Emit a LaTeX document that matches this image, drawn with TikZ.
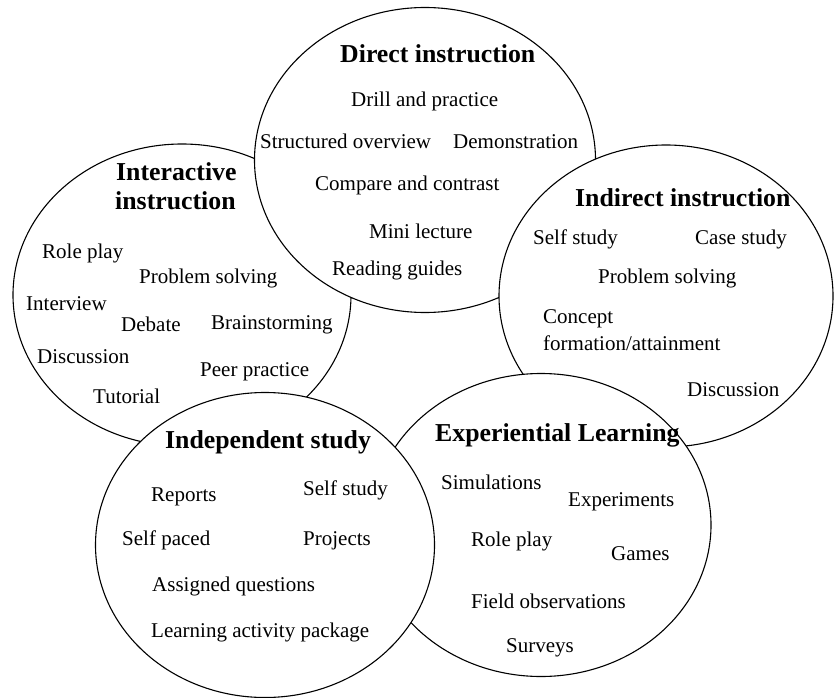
\documentclass[tikz,border=0pt]{standalone}
\usepackage{fontspec}
\setmainfont{Liberation Serif}
\usetikzlibrary{shapes.geometric}
\tikzset{
  blob/.style={ellipse, draw=black, fill=white, line width=1.1pt, inner sep=0pt},
  item/.style={anchor=west, inner sep=0pt, yshift=-1.5pt, font=\fontsize{21}{23}\selectfont},
  head/.style={anchor=west, inner sep=0pt, yshift=-1pt, font=\fontsize{25.8}{28}\selectfont\bfseries},
}
\begin{document}
\begin{tikzpicture}[x=1pt, y=-1pt]
\useasboundingbox (0,0) rectangle (835,698);
% ellipses in stacking order
\node[blob, minimum width=338pt, minimum height=302pt] (inter) at (182,295) {};
\node[blob, minimum width=341pt, minimum height=305pt] (direct) at (425,160) {};
\node[blob, minimum width=334pt, minimum height=302pt] (indirect) at (666,296) {};
\node[blob, minimum width=340pt, minimum height=303pt] (exper) at (541,525) {};
\node[blob, minimum width=339pt, minimum height=305pt] (indep) at (265,545) {};

% Direct instruction
\node[head] (dh) at (340,53) {Direct instruction};
\node[item] (d1) at (351,100) {Drill and practice};
\node[item] (d2) at (260,140) {Structured overview};
\node[item] (d3) at (453,140) {Demonstration};
\node[item] (d4) at (315,184) {Compare and contrast};
\node[item] (d5) at (369,230) {Mini lecture};
\node[item] (d6) at (332,269) {Reading guides};

% Interactive instruction
\node[head] (ih1) at (116,171) {Interactive};
\node[head] (ih2) at (115,200) {instruction};
\node[item] (i1) at (42,252) {Role play};
\node[item] (i2) at (139,277) {Problem solving};
\node[item] (i3) at (26,302) {Interview};
\node[item] (i4) at (121,323) {Debate};
\node[item] (i5) at (211,323) {Brainstorming};
\node[item] (i6) at (37,355) {Discussion};
\node[item] (i7) at (200,370) {Peer practice};
\node[item] (i8) at (93,395) {Tutorial};

% Indirect instruction
\node[head] (nh) at (575,197) {Indirect instruction};
\node[item] (n1) at (533,238) {Self study};
\node[item] (n2) at (695,238) {Case study};
\node[item] (n3) at (598,277) {Problem solving};
\node[item] (n4) at (543,317) {Concept};
\node[item] (n5) at (543,342) {formation/attainment};
\node[item] (n6) at (687,388) {Discussion};

% Independent study
\node[head] (sh) at (165,441) {Independent study};
\node[item] (s1) at (151,495) {Reports};
\node[item] (s2) at (303,489) {Self study};
\node[item] (s3) at (122,539) {Self paced};
\node[item] (s4) at (303,539) {Projects};
\node[item] (s5) at (152,585) {Assigned questions};
\node[item] (s6) at (151,631) {Learning activity package};

% Experiential Learning
\node[head] (eh) at (435,434) {Experiential Learning};
\node[item] (e1) at (441,481) {Simulations};
\node[item] (e2) at (568,500) {Experiments};
\node[item] (e3) at (471,540) {Role play};
\node[item] (e4) at (611,552) {Games};
\node[item] (e5) at (471,600) {Field observations};
\node[item] (e6) at (506,646) {Surveys};
\end{tikzpicture}
\end{document}
